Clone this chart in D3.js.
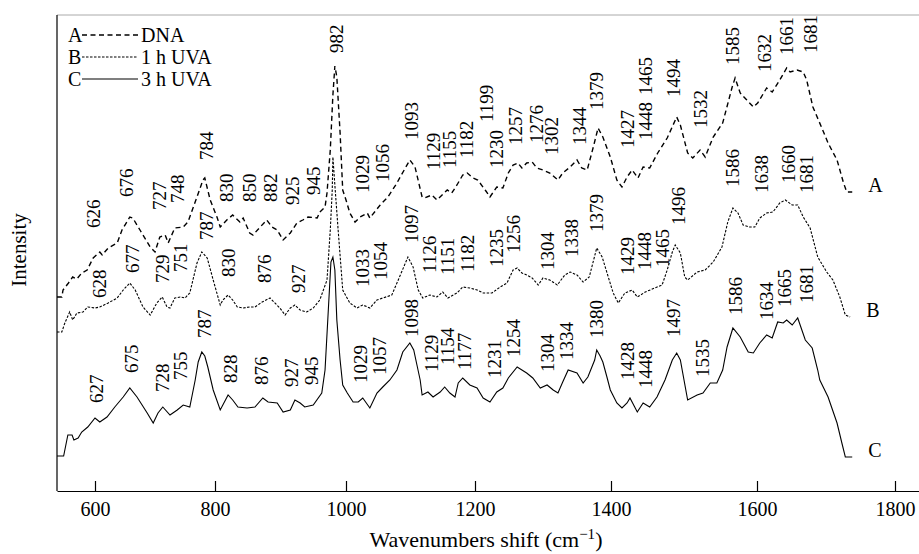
<!DOCTYPE html>
<html>
<head>
<meta charset="utf-8">
<script src="https://d3js.org/d3.v7.min.js"></script>
<style>
  body { margin: 0; background: #fff; }
  text { font-family: 'Liberation Serif', 'Times New Roman', serif; fill: #000; }
  .peak { font-size: 19px; }
  .tick text { font-size: 20px; }
  .axis-title { font-size: 22px; }
  .axis-title--y { font-size: 21px; }
  .legend text, .end-label { font-size: 20px; }
  .spectrum { fill: none; stroke: #000; }
  .spectrum--A { stroke-width: 1.4; stroke-dasharray: 5 3.5; }
  .spectrum--B { stroke-width: 1.1; stroke-dasharray: 2.5 1.5; }
  .spectrum--C { stroke-width: 1.1; }
</style>
</head>
<body>
<script>
  // x axis ticks (wavenumber, cm-1)
  const tickValues = [600, 800, 1000, 1200, 1400, 1600, 1800];

  const seriesKeys = ['A', 'B', 'C'];
  const seriesNames = ['DNA', '1 h UVA', '3 h UVA'];

  // spectra: [wavenumber, intensity (a.u., stacked)]
  const spectrumA = [
    [537,194],[545,194],[547,201],[556,208],[563,214],[570,212],[578,218],[587,221],[597,233],[608,239],
    [612,236],[622,243],[637,248],[645,261],[658,274],[663,273],[675,261],[692,244],[700,239],[708,254],
    [717,256],[722,248],[733,263],[747,264],[755,269],[770,294],[780,311],[783,313],[792,291],[803,274],
    [808,264],[818,271],[827,276],[838,269],[843,273],[853,258],[858,256],[869,264],[879,271],[887,264],
    [895,261],[904,251],[915,258],[925,268],[934,271],[942,274],[956,273],[960,279],[968,284],[971,298],
    [976,341],[980,396],[983,425],[986,414],[991,358],[995,301],[1000,291],[1006,278],[1014,269],[1022,274],
    [1033,278],[1037,273],[1053,286],[1065,294],[1079,308],[1084,314],[1099,331],[1107,324],[1118,294],[1122,293],
    [1133,296],[1141,291],[1149,296],[1157,301],[1164,298],[1172,306],[1181,316],[1188,318],[1197,313],[1204,311],
    [1215,301],[1222,294],[1232,304],[1241,303],[1249,318],[1256,326],[1263,328],[1269,323],[1276,328],[1284,329],
    [1291,323],[1300,321],[1310,318],[1322,311],[1329,318],[1340,324],[1350,331],[1357,323],[1365,321],[1374,344],
    [1381,363],[1388,354],[1399,334],[1408,311],[1415,304],[1422,314],[1429,321],[1437,313],[1444,324],[1453,323],
    [1464,338],[1477,353],[1490,374],[1495,366],[1505,338],[1512,333],[1522,341],[1529,334],[1540,354],[1553,368],
    [1566,404],[1570,413],[1577,398],[1586,391],[1595,384],[1601,388],[1614,403],[1622,399],[1633,411],[1643,423],
    [1648,419],[1658,421],[1667,419],[1672,411],[1681,384],[1694,363],[1703,348],[1716,331],[1725,309],[1730,299],
    [1738,299]
  ];

  const spectrumB = [
    [537,159],[545,159],[550,168],[558,179],[563,171],[570,178],[580,179],[588,184],[600,183],[608,184],
    [622,188],[637,193],[647,201],[658,208],[667,201],[680,184],[692,176],[703,188],[712,194],[720,184],
    [725,183],[733,193],[742,194],[750,193],[758,198],[770,228],[778,239],[787,233],[797,211],[808,186],
    [812,191],[820,196],[827,191],[834,184],[843,183],[853,184],[861,184],[872,189],[884,193],[899,183],
    [907,176],[915,183],[922,186],[930,181],[940,179],[950,183],[960,191],[971,211],[976,261],[979,301],
    [980,334],[983,306],[988,261],[995,201],[1006,188],[1017,183],[1026,186],[1037,183],[1048,191],[1057,193],
    [1071,196],[1081,211],[1096,234],[1104,224],[1112,201],[1119,193],[1130,196],[1141,194],[1150,199],[1158,193],
    [1172,198],[1181,204],[1192,203],[1203,201],[1212,198],[1225,198],[1237,204],[1247,208],[1256,221],[1262,223],
    [1269,218],[1276,216],[1284,213],[1293,206],[1300,213],[1310,211],[1321,206],[1332,216],[1340,219],[1350,216],
    [1359,209],[1368,214],[1379,243],[1387,234],[1396,214],[1403,198],[1410,188],[1419,198],[1429,201],[1436,194],
    [1447,199],[1460,203],[1470,206],[1477,221],[1484,239],[1488,246],[1495,238],[1501,214],[1505,211],[1518,219],
    [1529,221],[1540,229],[1552,244],[1560,269],[1567,283],[1574,278],[1581,266],[1590,264],[1597,264],[1604,273],
    [1614,278],[1623,279],[1633,288],[1641,291],[1651,286],[1659,286],[1667,274],[1677,263],[1688,234],[1701,219],
    [1710,211],[1720,194],[1728,176],[1735,174]
  ];

  const spectrumC = [
    [537,35],[548,35],[555,56],[562,56],[565,51],[572,53],[578,59],[588,64],[600,73],[608,69],
    [620,74],[633,84],[647,94],[658,103],[670,94],[687,78],[697,68],[705,78],[713,84],[725,76],
    [737,81],[747,86],[758,84],[767,111],[772,129],[778,139],[783,135],[788,124],[797,101],[808,81],
    [820,96],[827,91],[835,84],[849,83],[861,84],[873,93],[881,89],[895,88],[904,79],[915,81],
    [922,91],[930,88],[937,84],[950,86],[963,98],[968,121],[973,181],[977,229],[980,234],[983,221],
    [986,171],[991,131],[995,106],[1002,98],[1011,89],[1019,89],[1026,93],[1037,83],[1048,98],[1057,104],
    [1068,111],[1079,121],[1088,139],[1099,148],[1105,141],[1110,126],[1115,111],[1118,96],[1127,99],[1135,94],
    [1146,99],[1153,104],[1161,98],[1169,94],[1174,108],[1181,113],[1192,106],[1203,103],[1212,93],[1222,89],
    [1232,99],[1241,103],[1249,113],[1262,124],[1276,118],[1285,113],[1296,103],[1306,106],[1315,101],[1322,98],
    [1329,109],[1337,121],[1350,118],[1359,108],[1366,114],[1376,131],[1379,141],[1384,135],[1388,129],[1394,114],
    [1399,101],[1408,88],[1415,83],[1422,88],[1426,93],[1436,79],[1444,88],[1453,84],[1463,94],[1474,111],
    [1484,131],[1490,138],[1495,131],[1505,91],[1518,96],[1526,98],[1536,108],[1545,108],[1553,121],[1559,144],
    [1567,163],[1577,154],[1588,139],[1595,138],[1604,148],[1614,156],[1622,153],[1630,169],[1638,168],[1643,171],
    [1651,166],[1659,173],[1670,151],[1680,143],[1688,121],[1691,111],[1703,94],[1716,68],[1723,48],[1728,34],
    [1738,34]
  ];

  // peak labels: [text, wavenumber position, intensity position of label start]
  const peaksA = [
    ['626',598,263],['676',652,294],['727',708,281],['748',738,288],['784',785,331],['830',818,289],
    ['850',853,289],['882',885,289],['925',918,286],['945',950,296],['982',985,438],['1029',1026,298],
    ['1056',1056,309],['1093',1101,351],['1129',1136,321],['1155',1160,323],['1182',1186,333],['1199',1216,369],
    ['1230',1232,323],['1257',1260,346],['1276',1290,348],['1302',1313,336],['1344',1353,346],['1379',1379,381],
    ['1427',1422,343],['1448',1447,351],['1465',1447,396],['1494',1485,394],['1532',1523,363],['1585',1566,426],
    ['1632',1610,419],['1661',1643,436],['1681',1678,438]
  ];
  const peaksB = [
    ['628',608,193],['677',662,218],['729',712,208],['751',742,219],['787',785,251],['830',820,214],
    ['876',875,208],['927',928,198],['1033',1025,204],['1054',1053,211],['1097',1101,248],['1126',1129,218],
    ['1151',1157,216],['1182',1188,219],['1235',1231,224],['1256',1257,238],['1304',1306,221],['1338',1341,234],
    ['1379',1379,259],['1429',1422,216],['1448',1445,221],['1465',1470,224],['1496',1492,266],['1586',1566,304],
    ['1638',1607,298],['1660',1646,308],['1681',1672,298]
  ];
  const peaksC = [
    ['627',603,88],['675',660,118],['728',712,99],['755',742,111],['787',783,153],['828',824,108],
    ['876',870,106],['927',917,104],['945',947,106],['1029',1022,108],['1057',1051,116],['1098',1101,154],
    ['1129',1132,119],['1154',1157,126],['1177',1183,121],['1231',1228,113],['1254',1257,134],['1304',1306,119],
    ['1334',1334,131],['1380',1379,153],['1428',1422,111],['1448',1447,103],['1497',1486,154],['1535',1525,114],
    ['1586',1571,176],['1634',1613,171],['1665',1640,184],['1681',1672,188]
  ];

  const width = 919;
  const height = 554;
  const plot = {left: 57, right: 919, top: 15, bottom: 491};

  // the printed axis is not evenly spaced, so the scale is piecewise
  const xDomain = [537].concat(tickValues, [1835]);
  const xRange = [57, 95, 215, 346, 475, 611, 757, 895, 919];
  const x = d3.scaleLinear().domain(xDomain).range(xRange);
  const y = d3.scaleLinear().domain([0, 476]).range([plot.bottom, plot.top]);

  const svg = d3.select('body').append('svg')
      .attr('width', width)
      .attr('height', height);

  // frame
  svg.append('line')
      .attr('x1', plot.left).attr('x2', plot.right)
      .attr('y1', plot.top).attr('y2', plot.top)
      .attr('stroke', '#aaa').attr('stroke-width', 1);
  svg.append('line')
      .attr('x1', plot.left).attr('x2', plot.left)
      .attr('y1', plot.top).attr('y2', plot.bottom)
      .attr('stroke', '#000').attr('stroke-width', 1.2);

  const xAxis = svg.append('g')
      .attr('class', 'axis x')
      .attr('transform', `translate(0,${plot.bottom})`)
      .call(d3.axisBottom(x)
          .tickValues(tickValues)
          .tickFormat(d3.format('d'))
          .tickSizeInner(-10)
          .tickSizeOuter(0)
          .tickPadding(11));
  xAxis.select('.domain').attr('stroke-width', 1.2);
  xAxis.selectAll('.tick line').attr('stroke-width', 1.2);
  xAxis.attr('font-family', null).attr('font-size', null);

  svg.append('text')
      .attr('class', 'axis-title')
      .attr('x', 486)
      .attr('y', 547)
      .attr('text-anchor', 'middle')
      .html('Wavenumbers shift (cm<tspan baseline-shift="super" font-size="15px">−1</tspan>)');

  svg.append('text')
      .attr('class', 'axis-title axis-title--y')
      .attr('transform', 'translate(26,250) rotate(-90)')
      .attr('text-anchor', 'middle')
      .text('Intensity');

  const line = d3.line()
      .x(d => x(d[0]))
      .y(d => y(d[1]));

  const spectra = [spectrumA, spectrumB, spectrumC];
  const peaks = [peaksA, peaksB, peaksC];

  spectra.forEach((data, i) => {
    svg.append('path')
        .datum(data)
        .attr('class', `spectrum spectrum--${seriesKeys[i]}`)
        .attr('d', line);

    const last = data[data.length - 1];
    svg.append('text')
        .attr('class', 'end-label')
        .attr('x', x(last[0]) + 16)
        .attr('y', y(last[1]))
        .text(seriesKeys[i]);

    svg.append('g')
        .selectAll('text')
        .data(peaks[i])
        .join('text')
        .attr('class', 'peak')
        .attr('transform', d => `translate(${x(d[1])},${y(d[2])}) rotate(-90)`)
        .attr('dy', '0.35em')
        .text(d => d[0]);
  });

  // legend
  const legend = svg.append('g')
      .attr('class', 'legend')
      .attr('transform', 'translate(68,42)');

  const item = legend.selectAll('g')
      .data(seriesKeys)
      .join('g')
      .attr('transform', (d, i) => `translate(0,${i * 22})`);

  item.append('text')
      .text(d => d);

  item.append('line')
      .attr('class', d => `spectrum spectrum--${d}`)
      .attr('x1', 14).attr('x2', 70)
      .attr('y1', -7).attr('y2', -7);

  item.append('text')
      .attr('x', 73)
      .text((d, i) => seriesNames[i]);
</script>
</body>
</html>
